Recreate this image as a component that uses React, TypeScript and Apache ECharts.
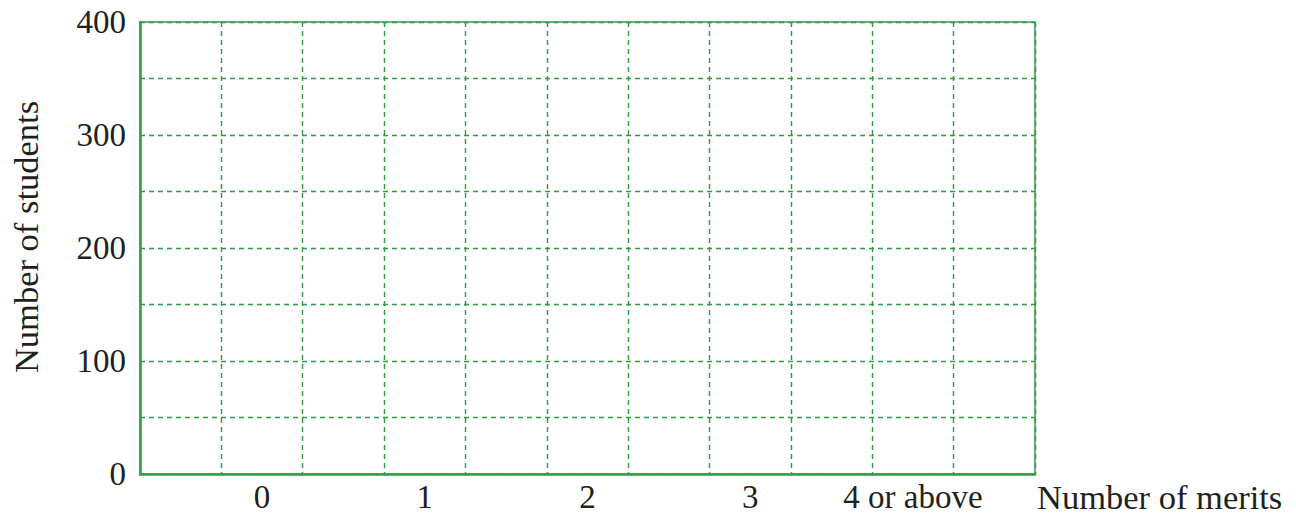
import React, { useEffect, useRef } from "react";
import * as echarts from "echarts";

const meritCategories = ["0", "1", "2", "3", "4 or above"];
// The reference is a blank template: no bars have been drawn yet.
const studentCounts: (number | null)[] = [null, null, null, null, null];
const yTickValues = [0, 100, 200, 300, 400];

const GREEN = "#3b9b49";
const FONT = "'Liberation Serif', 'Times New Roman', serif";

// 11 slots: each category sits in an odd slot, with an empty slot between each.
const slots: string[] = [];
const slotValues: (number | null)[] = [];
slots.push("");
slotValues.push(null);
meritCategories.forEach((c, i) => {
  slots.push(c);
  slotValues.push(studentCounts[i]);
  slots.push("");
  slotValues.push(null);
});

export default function App() {
  const ref = useRef<HTMLDivElement>(null);
  useEffect(() => {
    if (!ref.current) return;
    const chart = echarts.init(ref.current, null, { renderer: "svg" });
    chart.setOption({
      animation: false,
      backgroundColor: "#ffffff",
      grid: {
        left: 135,
        right: 261,
        top: 22,
        bottom: 38,
        containLabel: false,
        show: true,
        borderColor: GREEN,
        borderWidth: 1.5,
        backgroundColor: "transparent",
      },
      xAxis: {
        type: "category",
        data: slots,
        boundaryGap: true,
        name: "Number of merits",
        nameLocation: "end",
        nameGap: 2,
        nameTextStyle: {
          fontFamily: FONT,
          fontSize: 34.5,
          color: "#231f20",
          verticalAlign: "top",
          padding: [5, 0, 0, 0],
        },
        axisLine: { show: true, lineStyle: { color: GREEN, width: 2.5 } },
        axisTick: { show: false },
        axisLabel: {
          interval: 0,
          margin: 6,
          fontFamily: FONT,
          fontSize: 33,
          color: "#231f20",
        },
        splitLine: {
          show: true,
          interval: 0,
          lineStyle: { color: "#2f9a40", width: 1.4, type: [5, 4] },
        },
      },
      yAxis: {
        type: "value",
        min: 0,
        max: 400,
        interval: 50,
        name: "Number of students",
        nameLocation: "middle",
        nameRotate: 90,
        nameGap: 97,
        nameTextStyle: {
          fontFamily: FONT,
          fontSize: 34.5,
          color: "#231f20",
          padding: [0, 0, 0, 22],
        },
        axisLine: { show: true, lineStyle: { color: GREEN, width: 2.5 } },
        axisTick: { show: false },
        axisLabel: {
          margin: 14,
          fontFamily: FONT,
          fontSize: 33,
          color: "#231f20",
          formatter: (v: number) => (yTickValues.includes(v) ? String(v) : ""),
        },
        splitLine: {
          show: true,
          lineStyle: { color: "#2f9a40", width: 1.4, type: [5, 4] },
        },
      },
      series: [
        {
          type: "bar",
          data: slotValues,
          itemStyle: { color: GREEN },
        },
      ],
    });
    return () => chart.dispose();
  }, []);
  return (
    <div
      ref={ref}
      style={{ position: "fixed", left: 0, top: 0, width: 1296, height: 514 }}
    />
  );
}
